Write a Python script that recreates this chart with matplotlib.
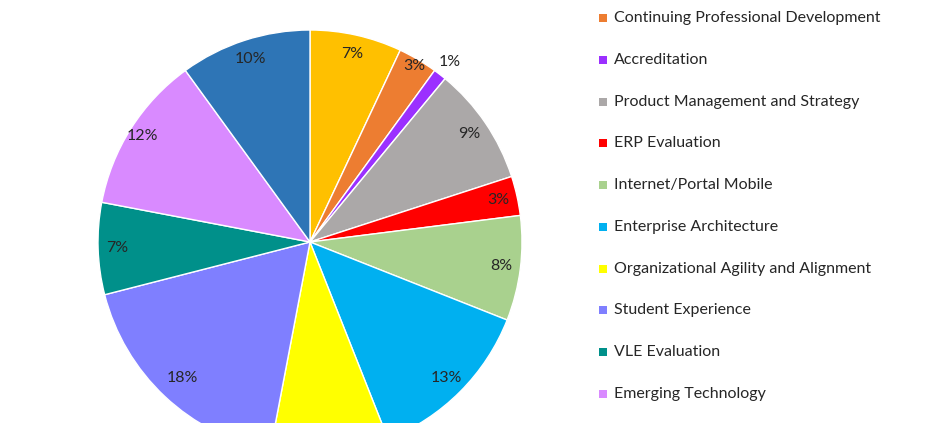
import matplotlib.pyplot as plt
import numpy as np

# Slices, clockwise from 12 o'clock (first and last legend entries are cut off in the source)
LABELS = [
    "",
    "Continuing Professional Development",
    "Accreditation",
    "Product Management and Strategy",
    "ERP Evaluation",
    "Internet/Portal Mobile",
    "Enterprise Architecture",
    "Organizational Agility and Alignment",
    "Student Experience",
    "VLE Evaluation",
    "Emerging Technology",
    "",
]
VALUES = [7, 3, 1, 9, 3, 8, 13, 9, 18, 7, 12, 10]
COLORS = [
    "#FFC000", "#ED7D31", "#9B30FF", "#ABA8A8", "#FF0000", "#A9D18E",
    "#00B0F0", "#FFFF00", "#7F7FFF", "#00908A", "#D98AFF", "#2E75B6",
]

W, H = 939, 423
plt.rcParams["font.family"] = ["Lato", "DejaVu Sans"]

fig = plt.figure(figsize=(W / 100, H / 100), dpi=100)

# Pie axes: centre (310, 242) px from top, radius 212 px; extends past the figure edges
cx, cy, r = 310, 242, 212
ax = fig.add_axes([(cx - r) / W, (H - cy - r) / H, 2 * r / W, 2 * r / H])
wedges, texts, autotexts = ax.pie(
    VALUES,
    colors=COLORS,
    startangle=90,
    counterclock=False,
    autopct="%d%%",
    pctdistance=0.91,
    wedgeprops=dict(edgecolor="white", linewidth=1),
    textprops=dict(fontsize=11.5, color="#262626"),
    radius=1,
)
ax.set_xlim(-1, 1)
ax.set_ylim(-1, 1)
ax.set_aspect("equal")
ax.axis("off")

# nudge labels the way Excel's best fit does
def move_label(t, k):
    x, y = t.get_position()
    t.set_position((x * k, y * k))

move_label(autotexts[2], 1.18)
move_label(autotexts[1], 1.06)
move_label(autotexts[8], 0.97)
move_label(autotexts[10], 1.03)
# yellow slice label lies below the cropped area in the source
autotexts[7].set_visible(False)

# Legend drawn in pixel space, rows continue above/below the visible area
lax = fig.add_axes([0, 0, 1, 1])
lax.set_xlim(0, W)
lax.set_ylim(H, 0)
lax.axis("off")
lax.patch.set_alpha(0)
row0, step = 18, 41.77
for i, (lab, col) in enumerate(zip(LABELS, COLORS)):
    if not lab:
        continue
    y = row0 + (i - 1) * step
    lax.scatter([603], [y], marker="s", s=38, color=col, linewidths=0)
    lax.text(614, y, lab, va="center", ha="left", fontsize=11.5, color="#262626")

fig.savefig("out.png", dpi=100)
